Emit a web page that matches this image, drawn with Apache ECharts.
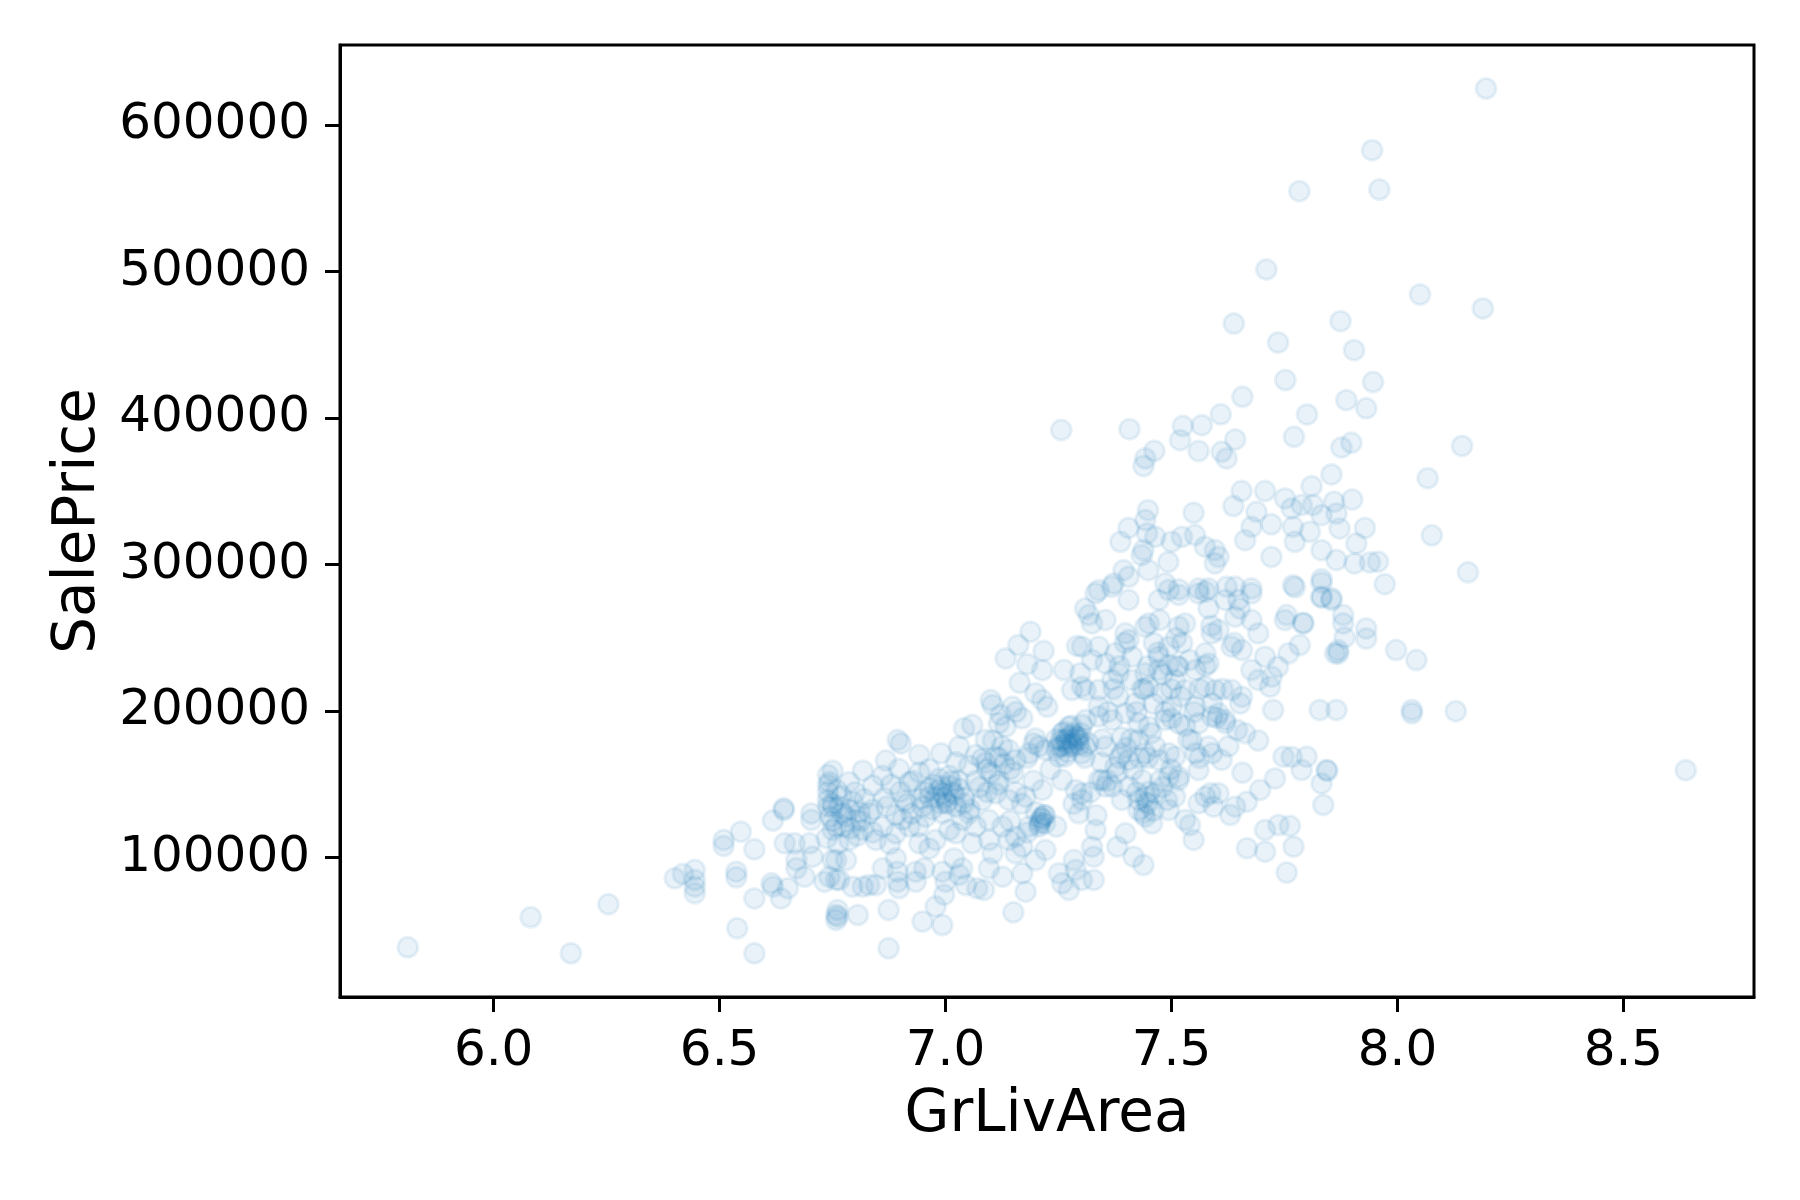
<!DOCTYPE html>
<html>
<head>
<meta charset="utf-8">
<title>GrLivArea vs SalePrice</title>
<script src="https://cdn.jsdelivr.net/npm/echarts@6.0.0/dist/echarts.min.js"></script>
<style>
  html, body { margin: 0; padding: 0; background: #fff; }
  #chart { width: 1800px; height: 1200px; }
</style>
</head>
<body>
<div id="chart"></div>
<script>
// tick positions
const xTicks = [6.0, 6.5, 7.0, 7.5, 8.0, 8.5];
const yTicks = [100000, 200000, 300000, 400000, 500000, 600000];

// [log GrLivArea, SalePrice]
const houses = [
  // low / left tail
  [5.810, 38800], [6.082, 59300], [6.171, 34700], [6.254, 68200], [6.401, 85900],
  [6.419, 88900], [6.445, 91600], [6.445, 84800], [6.445, 80200], [6.445, 75700],
  [6.509, 112000], [6.509, 108000], [6.547, 117700], [6.577, 105700], [6.537, 90400],
  [6.537, 86600], [6.577, 72200], [6.539, 51800], [6.577, 34700], [6.618, 125300],
  [6.642, 133700], [6.642, 132500], [6.644, 109800], [6.666, 109800], [6.670, 98400],
  [6.670, 92700], [6.688, 87000], [6.618, 80200], [6.615, 82500], [6.636, 72200],
  [6.651, 79100], [6.703, 130200], [6.703, 125700], [6.699, 109800], [6.706, 100700],
  [6.732, 83600], [6.740, 156400], [6.740, 149600], [6.740, 145000], [6.740, 139400],
  [6.740, 134800], [6.750, 118900], [6.758, 60900], [6.758, 57500], [6.758, 84800],
  [6.758, 98400],
  // 6.75 - 7.3
  [7.217, 241100], [7.291, 244500], [7.262, 228100], [7.164, 219400], [7.199, 212200],
  [7.225, 203000], [7.214, 207600], [7.100, 207600], [7.104, 204200], [7.122, 197400],
  [7.148, 203000], [7.170, 195100], [7.133, 189400], [7.199, 181400], [7.195, 178000],
  [7.265, 180300], [7.280, 178000], [7.295, 180300], [7.302, 216700], [7.298, 225800],
  [7.280, 214400], [7.041, 188300], [7.059, 190500], [6.894, 180300], [6.901, 178000],
  [6.942, 170100], [6.990, 171200], [7.030, 175800], [7.067, 170100], [7.089, 180300],
  [6.868, 166300], [6.817, 159400], [6.750, 159400], [6.897, 160600], [6.861, 156000],
  [6.743, 151500], [6.787, 151500], [6.839, 149200], [6.920, 151500], [6.942, 158300],
  [6.964, 160600], [6.986, 153800], [7.008, 156000], [7.023, 165100], [7.052, 162800],
  [7.081, 167400], [7.111, 168900], [7.140, 173500], [7.155, 166700], [7.185, 171200],
  [7.221, 173500], [7.251, 168900], [7.273, 175800], [7.302, 171200], [6.993, 143900],
  [6.964, 141600], [6.949, 134800], [6.956, 128000], [6.993, 130300], [7.023, 134800],
  [7.052, 130300], [7.081, 139400], [7.111, 143900], [7.140, 139400], [7.177, 141600],
  [7.214, 146200], [7.258, 153000], [7.288, 146200], [7.302, 139400], [7.214, 126800],
  [7.210, 124600], [7.185, 121200], [7.155, 114300], [7.126, 121200], [7.096, 125700],
  [7.067, 121200], [7.037, 125700], [7.008, 118900], [7.023, 116600], [6.978, 112100],
  [6.942, 109800], [6.920, 121200], [6.890, 116600], [6.861, 121200], [6.831, 130300],
  [6.802, 125700], [6.772, 130300], [6.750, 134800], [6.758, 121200], [6.787, 112100],
  [6.817, 118900], [6.846, 112100], [6.750, 98400], [6.780, 98400], [6.743, 87000],
  [6.765, 84800], [6.794, 80200], [6.817, 80200], [6.831, 81300], [6.846, 81300],
  [6.861, 92700], [6.890, 99500], [6.894, 90400], [6.894, 83600], [6.897, 79100],
  [6.934, 90400], [6.934, 83600], [6.953, 92700], [6.964, 106300], [6.993, 90400],
  [7.000, 83600], [6.997, 74700], [7.019, 99500], [7.030, 88300], [7.037, 92700],
  [7.045, 81300], [7.070, 79100], [7.085, 78000], [7.096, 92700], [7.104, 103000],
  [7.126, 87000], [7.155, 103000], [7.170, 89300], [7.177, 76800], [7.199, 98400],
  [7.221, 105200], [7.251, 89300], [7.258, 82500], [7.273, 78000], [7.284, 98400],
  [7.288, 91600], [7.302, 84800], [7.140, 112100], [7.170, 107500], [7.096, 112100],
  [7.059, 109800], [6.761, 64300], [6.761, 59700], [6.806, 60900], [6.874, 64300],
  [6.949, 56400], [6.978, 66600], [6.993, 54000], [6.874, 38100], [7.150, 62700],
  [7.258, 184900], [7.273, 189400], [7.288, 182600], [7.251, 175800], [7.302, 190500],
  [7.310, 175800], [7.309, 270000], [7.317, 265600], [7.188, 254200], [7.161, 245100],
  [7.133, 236000], [7.181, 232100], [7.214, 228000],
  // dense core, 6.75 - 7.35
  [6.953, 144700], [6.978, 140800], [6.991, 148600], [7.004, 136800], [7.016, 144700],
  [7.029, 152500], [7.042, 140800], [6.970, 132900], [7.054, 132900], [7.067, 152500],
  [7.092, 160300], [7.118, 168200], [7.092, 144700], [6.927, 152500], [6.915, 136800],
  [6.890, 129000], [6.864, 140800], [6.839, 132900], [6.813, 125100], [6.788, 132900],
  [6.775, 121200], [6.800, 144700], [6.750, 136800], [6.750, 125100], [6.737, 113300],
  [6.762, 109400], [6.839, 117200], [6.877, 109400], [6.940, 121200], [7.118, 152500],
  [7.143, 160300], [7.156, 144700], [7.181, 168200], [7.194, 152500], [7.207, 176000],
  [7.232, 160300], [7.245, 180900], [7.258, 176000], [7.270, 180900], [7.283, 184800],
  [7.296, 176900], [7.265, 169100], [7.308, 168200], [7.220, 129000], [7.207, 121200],
  [7.220, 123400], [7.169, 136800], [7.143, 125100], [7.181, 117200], [7.245, 121200],
  [7.283, 136800], [7.321, 144700], [7.334, 129000], [7.118, 191700], [7.156, 199500],
  [7.105, 180000],
  [6.985, 146000], [6.998, 141000], [7.010, 149000], [7.003, 138000], [6.975, 150000],
  [7.020, 143000], [6.990, 137000], [7.012, 152000], [6.965, 147000], [7.030, 147000],
  [6.945, 140000], [7.040, 137000], [7.268, 178000], [7.275, 183000], [7.262, 186000],
  [7.282, 176000], [7.290, 181000], [7.255, 180000], [7.278, 190000], [7.270, 172000],
  [7.300, 185000], [7.245, 174000], [7.212, 127000], [7.208, 123000], [7.218, 129000],
  [7.200, 131000], [6.765, 135000], [6.780, 128000], [6.795, 138000], [6.810, 131000],
  [6.770, 142000], [6.790, 120000], [6.820, 140000], [6.805, 115000], [6.745, 128000],
  [6.760, 146000], [6.900, 145000], [6.910, 139000], [6.880, 150000], [6.925, 130000],
  [6.870, 135000], [6.905, 126000], [7.100, 158000], [7.115, 150000], [7.130, 164000],
  [7.090, 165000], [7.150, 158000], [7.125, 176000], [7.075, 148000],
  // dense core, 7.35 - 7.65
  [7.347, 180900], [7.359, 199500], [7.372, 215200], [7.385, 230900], [7.397, 246600],
  [7.410, 180900], [7.423, 199500], [7.435, 215200], [7.448, 230900], [7.461, 246600],
  [7.474, 262200], [7.486, 199500], [7.499, 215200], [7.512, 230900], [7.524, 246600],
  [7.537, 180900], [7.550, 199500], [7.562, 215200], [7.575, 230900], [7.588, 258300],
  [7.601, 195600], [7.613, 215200], [7.639, 246600], [7.651, 270100], [7.448, 168200],
  [7.474, 152500], [7.499, 160300], [7.385, 168200], [7.359, 152500], [7.423, 144700],
  [7.448, 136800], [7.562, 168200], [7.626, 176000],
  [7.460, 205000], [7.480, 225000], [7.500, 195000], [7.520, 210000], [7.540, 235000],
  [7.455, 185000], [7.470, 240000], [7.530, 190000], [7.510, 250000], [7.440, 215000],
  [7.400, 175000], [7.390, 182000], [7.415, 160000], [7.430, 168000], [7.380, 158000],
  [7.345, 165000], [7.445, 138000], [7.450, 145000], [7.460, 132000], [7.480, 148000],
  // 7.3 - 7.9, lower half
  [7.773, 284500], [7.832, 287700], [7.832, 278100], [7.854, 277000], [7.792, 259900],
  [7.755, 265600], [7.751, 262200], [7.784, 245100], [7.759, 239500], [7.725, 200800],
  [7.828, 200800], [7.865, 200800], [7.862, 239500], [7.692, 179900], [7.748, 168900],
  [7.799, 168900], [7.843, 159800], [7.788, 159800], [7.832, 150700], [7.729, 154100],
  [7.657, 158000], [7.696, 146200], [7.667, 138200], [7.641, 134800], [7.630, 129100],
  [7.604, 143900], [7.586, 143900], [7.575, 141600], [7.593, 134800], [7.560, 137100],
  [7.836, 136000], [7.707, 118900], [7.737, 122300], [7.762, 121600], [7.667, 106400],
  [7.707, 104100], [7.770, 107500], [7.755, 89800], [7.549, 112100], [7.541, 122300],
  [7.530, 125700], [7.508, 141600], [7.516, 155300], [7.490, 139400], [7.438, 130300],
  [7.442, 141600], [7.427, 139400], [7.457, 123400], [7.398, 116600], [7.380, 107500],
  [7.416, 100700], [7.438, 95000], [7.328, 84800], [7.328, 100700], [7.332, 118900],
  [7.339, 153000], [7.354, 148500], [7.302, 143900], [7.295, 130300], [7.324, 107500],
  [7.390, 139400], [7.405, 148500], [7.464, 143900], [7.494, 155300], [7.472, 166700],
  [7.516, 153000], [7.560, 159800], [7.553, 171200], [7.582, 175800], [7.611, 166700],
  [7.590, 171200], [7.619, 191700], [7.645, 187100], [7.663, 184900], [7.619, 194000],
  [7.652, 205300], [7.656, 209900], [7.633, 214400], [7.597, 214400], [7.575, 216700],
  [7.575, 239500], [7.582, 232600], [7.553, 228100], [7.516, 230400], [7.494, 231500],
  [7.472, 228100], [7.442, 225800], [7.413, 221300], [7.383, 225800], [7.354, 232600],
  [7.324, 234900], [7.302, 244000], [7.339, 244000], [7.354, 262200], [7.324, 259900],
  [7.332, 280400], [7.368, 284900], [7.405, 275900], [7.450, 259900], [7.442, 257600],
  [7.398, 253100], [7.405, 248500], [7.472, 275900], [7.494, 282700], [7.516, 279300],
  [7.516, 257600], [7.530, 259900], [7.560, 280400], [7.582, 270200], [7.575, 281600],
  [7.604, 255400], [7.619, 275900], [7.648, 275900], [7.677, 280400], [7.641, 284900],
  [7.677, 262200], [7.641, 264500], [7.692, 253100], [7.656, 241700], [7.633, 244000],
  [7.677, 228100], [7.707, 237200], [7.722, 223500], [7.718, 216700], [7.692, 221300],
  [7.736, 230400], [7.589, 253100], [7.472, 237200], [7.494, 244000], [7.376, 239500],
  [7.413, 237200], [7.310, 214400], [7.339, 214400], [7.369, 221300], [7.339, 203100],
  [7.383, 210000], [7.420, 205300], [7.449, 216700], [7.479, 212200], [7.508, 221300],
  [7.530, 214400], [7.553, 203100], [7.590, 205300], [7.501, 203100], [7.516, 191700],
  [7.486, 194000], [7.450, 189400], [7.427, 191700], [7.398, 198500], [7.369, 194000],
  [7.339, 196300], [7.310, 194000], [7.295, 182600], [7.317, 178000], [7.354, 175800],
  [7.390, 171200], [7.405, 166700], [7.376, 162100], [7.346, 153000], [7.442, 171200],
  [7.427, 180300], [7.464, 175800], [7.494, 171200], [7.508, 168900], [7.545, 179900],
  [7.560, 191700], [7.590, 196300], [7.604, 198500], [7.435, 153000], [7.427, 132500],
  [7.442, 128000], [7.494, 132500], [7.369, 148500],
  // 7.3 - 7.8, upper half
  [7.256, 391900], [7.407, 392500], [7.657, 414600], [7.609, 402600], [7.525, 394600],
  [7.567, 395200], [7.519, 385000], [7.560, 377500], [7.641, 385500], [7.462, 377700],
  [7.442, 372500], [7.438, 367300], [7.611, 377000], [7.622, 372500], [7.771, 387300],
  [7.655, 350200], [7.707, 350200], [7.637, 340000], [7.751, 345200], [7.766, 338400],
  [7.688, 336100], [7.677, 325800], [7.721, 327500], [7.663, 316700], [7.769, 325800],
  [7.773, 315600], [7.721, 305300], [7.549, 335400], [7.448, 337200], [7.442, 330400],
  [7.405, 325100], [7.387, 315600], [7.446, 321300], [7.464, 319000], [7.434, 306500],
  [7.438, 310000], [7.500, 315600], [7.493, 301900], [7.523, 319000], [7.552, 320200],
  [7.574, 312300], [7.596, 310000], [7.604, 305300], [7.596, 300800], [7.449, 296200],
  [7.394, 296200], [7.405, 291700], [7.372, 287200], [7.339, 282600], [7.486, 287200],
  [7.516, 283100], [7.560, 283700], [7.582, 283700], [7.622, 284900], [7.677, 283700],
  [7.769, 286000],
  // top
  [8.196, 625000], [7.944, 582900], [7.783, 554900], [7.960, 556000], [7.710, 501500],
  [8.050, 484400], [8.189, 474900], [7.638, 464600], [7.874, 466200], [7.736, 451600],
  [7.904, 446400], [7.752, 426000], [7.946, 424600], [7.887, 412300], [7.800, 402500],
  [7.931, 406700],
  // right
  [8.143, 381000], [8.067, 359000], [8.076, 320000], [8.156, 294800], [7.972, 286700],
  [7.957, 302000], [7.997, 241700], [8.042, 234900], [8.032, 198500], [8.032, 200800],
  [8.129, 200000], [8.638, 159700],
  [7.876, 380000], [7.898, 383200], [7.854, 361600], [7.810, 353600], [7.788, 340700],
  [7.813, 340700], [7.860, 343000], [7.900, 344500], [7.865, 334900], [7.832, 333800],
  [7.806, 322400], [7.872, 324700], [7.928, 325100], [7.832, 309900], [7.909, 314400],
  [7.865, 303100], [7.905, 300800], [7.939, 301500], [7.832, 290100], [7.832, 277600],
  [7.854, 275800], [7.791, 260300], [7.880, 265600], [7.880, 259900], [7.883, 250300],
  [7.931, 256500], [7.931, 249600], [7.869, 239400], [7.869, 241500], [7.766, 168800],
  [7.845, 159300]
];

const font = 'DejaVu Sans';
const chart = echarts.init(document.getElementById('chart'));

chart.setOption({
  animation: false,
  grid: {
    left: 340, right: 46, top: 45, bottom: 203,
    show: true, borderColor: '#000', borderWidth: 3
  },
  xAxis: {
    type: 'value',
    min: 5.660,
    max: 8.789,
    name: 'GrLivArea',
    nameLocation: 'middle',
    nameGap: 90,
    nameTextStyle: { fontFamily: font, fontSize: 58, color: '#000' },
    splitLine: { show: false },
    axisLine: { onZero: false, lineStyle: { color: '#000', width: 3 } },
    axisTick: { length: 15, lineStyle: { color: '#000', width: 3 }, customValues: xTicks },
    axisLabel: {
      customValues: xTicks,
      formatter: v => v.toFixed(1),
      fontFamily: font, fontSize: 50, color: '#000', margin: 30
    }
  },
  yAxis: {
    type: 'value',
    min: 4900,
    max: 654700,
    name: 'SalePrice',
    nameLocation: 'middle',
    nameGap: 225,
    nameTextStyle: { fontFamily: font, fontSize: 58, color: '#000' },
    splitLine: { show: false },
    axisLine: { show: true, onZero: false, lineStyle: { color: '#000', width: 3 } },
    axisTick: { show: true, length: 15, lineStyle: { color: '#000', width: 3 }, customValues: yTicks },
    axisLabel: {
      customValues: yTicks,
      formatter: v => String(v),
      fontFamily: font, fontSize: 50, color: '#000', margin: 30
    }
  },
  series: [{
    type: 'scatter',
    data: houses,
    symbol: 'circle',
    symbolSize: 20,
    itemStyle: {
      color: 'rgba(31,119,180,0.12)',
      borderColor: 'rgba(31,119,180,0.12)',
      borderWidth: 3
    },
    emphasis: { disabled: true }
  }]
});
</script>
</body>
</html>
